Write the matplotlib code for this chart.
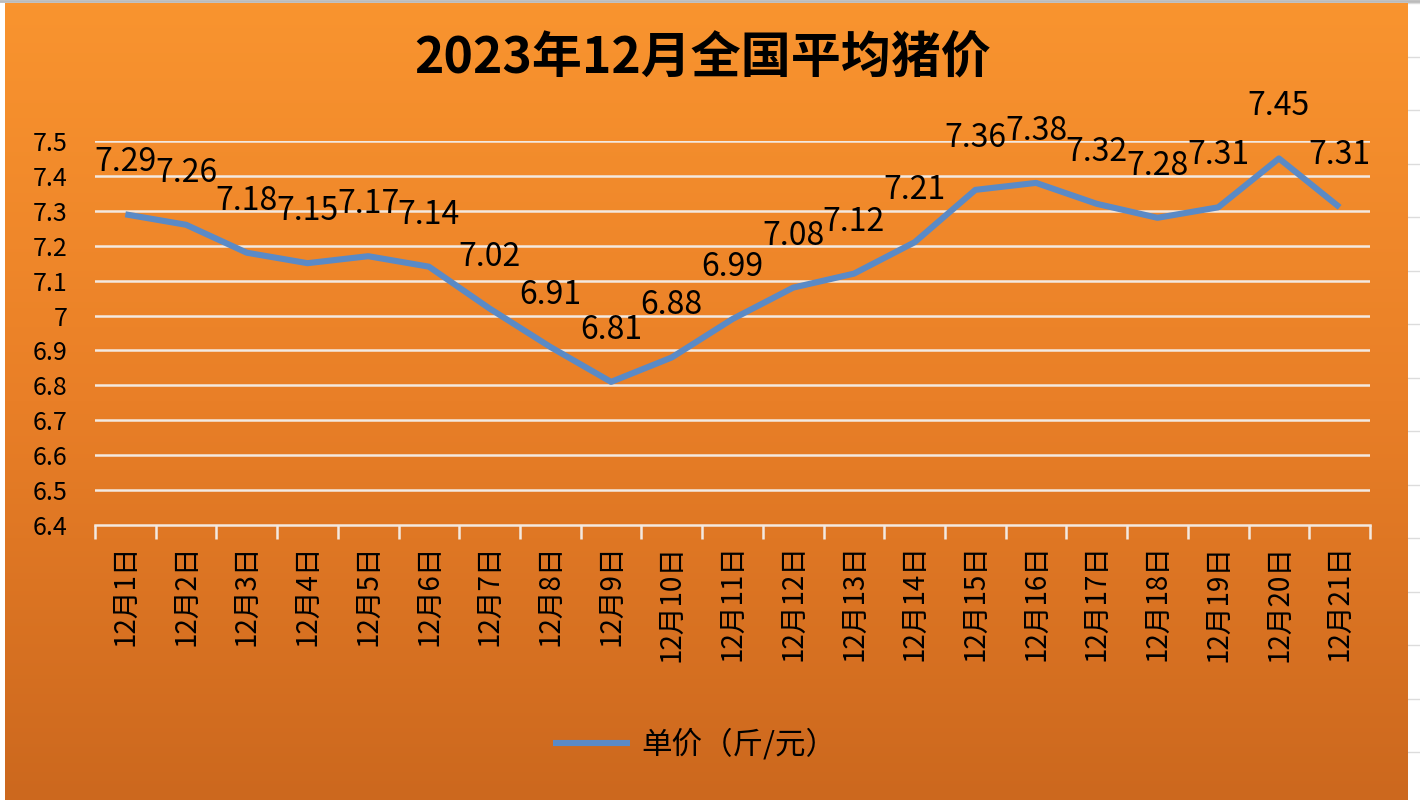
import numpy as np
import matplotlib
matplotlib.use("Agg")
import matplotlib.pyplot as plt
from matplotlib.colors import LinearSegmentedColormap

plt.rcParams['font.family'] = ['Noto Sans CJK SC', 'DejaVu Sans']

# -------------------------------
# Data
# -------------------------------
days = [f"12月{d}日" for d in range(1, 22)]
prices = [7.29, 7.26, 7.18, 7.15, 7.17, 7.14, 7.02, 6.91, 6.81, 6.88, 6.99,
          7.08, 7.12, 7.21, 7.36, 7.38, 7.32, 7.28, 7.31, 7.45, 7.31]
series_name = "单价（斤/元）"
title = "2023年12月全国平均猪价"

W, H = 1420, 800
fig = plt.figure(figsize=(W / 100, H / 100), dpi=100)
fig.patch.set_facecolor('white')

# faint spreadsheet grid on the right edge
deco = fig.add_axes([0, 0, 1, 1])
deco.set_xlim(0, W)
deco.set_ylim(H, 0)
deco.axis('off')
for y in np.arange(3, H, 53.5):
    deco.plot([1408, W], [y, y], color='#dcdcdc', lw=1)
deco.plot([0, W], [1, 1], color='#bbbbbb', lw=2)

# orange gradient panel
bg = fig.add_axes([5 / W, 0, (1408 - 5) / W, 1 - 3 / H])
grad = LinearSegmentedColormap.from_list('g', ['#f9942f', '#e97f27', '#cc681e'])
bg.imshow(np.linspace(0, 1, 256).reshape(-1, 1), aspect='auto', cmap=grad,
          extent=[0, 1, 0, 1], origin='upper')
bg.axis('off')

# -------------------------------
# Line chart
# -------------------------------
ax = fig.add_axes([95 / W, 1 - 525 / H, (1370 - 95) / W, (525 - 141) / H])
ax.patch.set_alpha(0)
x = np.arange(len(days))
ax.plot(x, prices, color='#5a8ac6', lw=4.4, solid_capstyle='butt', zorder=3,
        label=series_name)

for xi, p in zip(x, prices):
    ax.annotate(f"{p:g}", (xi, p), xytext=(0, 52), textcoords='offset pixels',
                ha='center', va='center', fontsize=23, color='black', zorder=4)

ax.set_xlim(-0.5, len(days) - 0.5)
ax.set_ylim(6.4, 7.5)
yt = np.round(np.arange(6.4, 7.51, 0.1), 1)
ax.set_yticks(yt)
ax.set_yticklabels([f"{v:g}" for v in yt], fontsize=18)
ax.tick_params(axis='y', length=0, pad=20)
for v in yt[1:]:
    ax.axhline(v, color='#f3e9e0', lw=1.8, zorder=1)

ax.set_xticks(x)
ax.set_xticklabels(days, rotation=90, fontsize=20, va='top')
ax.set_xticks(np.arange(-0.5, len(days)), minor=True)
ax.tick_params(axis='x', which='major', length=0, pad=14)
ax.tick_params(axis='x', which='minor', length=10, width=1.8, color='#f3e9e0')

for s in ['top', 'right', 'left']:
    ax.spines[s].set_visible(False)
ax.spines['bottom'].set_color('#f3e9e0')
ax.spines['bottom'].set_linewidth(1.8)

fig.text(703 / W, 1 - 58 / H, title, ha='center', va='center',
         fontsize=36, fontweight='bold')

fig.legend(loc='center', bbox_to_anchor=(695 / W, 1 - 745 / H), frameon=False,
           fontsize=22, handlelength=2.5, handletextpad=0.4)

fig.savefig('out.png', dpi=100)
